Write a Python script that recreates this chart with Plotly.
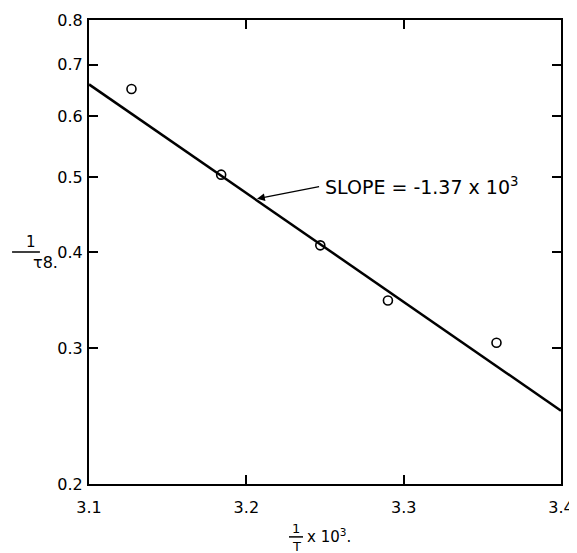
import math
import plotly.graph_objects as go

# data
inv_T = [3.127, 3.184, 3.247, 3.290, 3.359]
inv_tau = [0.651, 0.504, 0.408, 0.346, 0.305]
fit_x = [3.1, 3.4]
fit_y = [0.660, 0.249]
x_ticks = [3.1, 3.2, 3.3, 3.4]
x_ticklabels = ["3.1", "3.2", "3.3", "3.4"]
y_ticks = [0.2, 0.3, 0.4, 0.5, 0.6, 0.7, 0.8]
y_ticklabels = ["0.2", "0.3", "0.4", "0.5", "0.6", "0.7", "0.8"]
slope_text = "SLOPE = -1.37 x 10<sup>3</sup>"
arrow_point = (3.2068, 0.469)

FONT = "DejaVu Sans, sans-serif"

fig = go.Figure()
fig.add_trace(go.Scatter(x=fit_x, y=fit_y, mode="lines",
                         line=dict(color="black", width=2.5), showlegend=False))
fig.add_trace(go.Scatter(x=inv_T, y=inv_tau, mode="markers",
                         marker=dict(symbol="circle-open", size=9, color="black",
                                     line=dict(width=1.6, color="black")),
                         showlegend=False))

axis_common = dict(showgrid=False, zeroline=False, showline=True, linecolor="black",
                   linewidth=2, mirror="ticks", ticks="inside", ticklen=9,
                   tickwidth=1.8, tickcolor="black", automargin=False,
                   tickfont=dict(family=FONT, size=16, color="black"))

fig.update_xaxes(range=[3.1, 3.4], tickvals=x_ticks, ticktext=x_ticklabels,
                 ticklabelstandoff=8, **axis_common)
fig.update_yaxes(type="log", range=[math.log10(0.2), math.log10(0.8)], tickvals=y_ticks,
                 ticktext=y_ticklabels, ticklabelstandoff=1, **axis_common)

# slope annotation with arrow pointing to the fitted line
fig.add_annotation(x=arrow_point[0], y=math.log10(arrow_point[1]),
                   xref="x", yref="y", ax=66, ay=-13, showarrow=True,
                   xanchor="left", yanchor="middle", standoff=0, startstandoff=4,
                   arrowhead=2, arrowsize=1.2, arrowwidth=1.3, arrowcolor="black",
                   text=slope_text, font=dict(family=FONT, size=19, color="black"))

# y-axis label as a fraction 1 / τ8.
fig.add_annotation(xref="paper", yref="paper", x=-0.1377, y=0.521, text="1",
                   showarrow=False, yanchor="middle",
                   font=dict(family=FONT, size=15, color="black"))
fig.add_annotation(xref="paper", yref="paper", x=-0.123, y=0.477, text="τ8.",
                   showarrow=False, yanchor="middle",
                   font=dict(family=FONT, size=16, color="black"))
fig.add_shape(type="line", xref="paper", yref="paper", x0=-0.163, x1=-0.104,
              y0=0.5, y1=0.5, line=dict(color="black", width=1.5))

# x-axis label 1/T x 10³.
fig.add_annotation(xref="paper", yref="paper", x=0.4386, y=-0.096, text="1",
                   showarrow=False, yanchor="middle",
                   font=dict(family=FONT, size=13, color="black"))
fig.add_annotation(xref="paper", yref="paper", x=0.4386, y=-0.134, text="T",
                   showarrow=False, yanchor="middle",
                   font=dict(family=FONT, size=13, color="black"))
fig.add_shape(type="line", xref="paper", yref="paper", x0=0.4237, x1=0.4534,
              y0=-0.114, y1=-0.114, line=dict(color="black", width=1.5))
fig.add_annotation(xref="paper", yref="paper", x=0.458, y=-0.112,
                   text="x 10<sup>3</sup>.", showarrow=False, xanchor="left",
                   yanchor="middle", font=dict(family=FONT, size=15, color="black"))

# page body has an 8px margin: shift the figure so the plot area lands where the reference has it
fig.update_layout(width=569, height=545, margin=dict(l=81, r=16, t=12, b=69),
                  plot_bgcolor="white", paper_bgcolor="white", showlegend=False)

fig.write_html("out.html")
